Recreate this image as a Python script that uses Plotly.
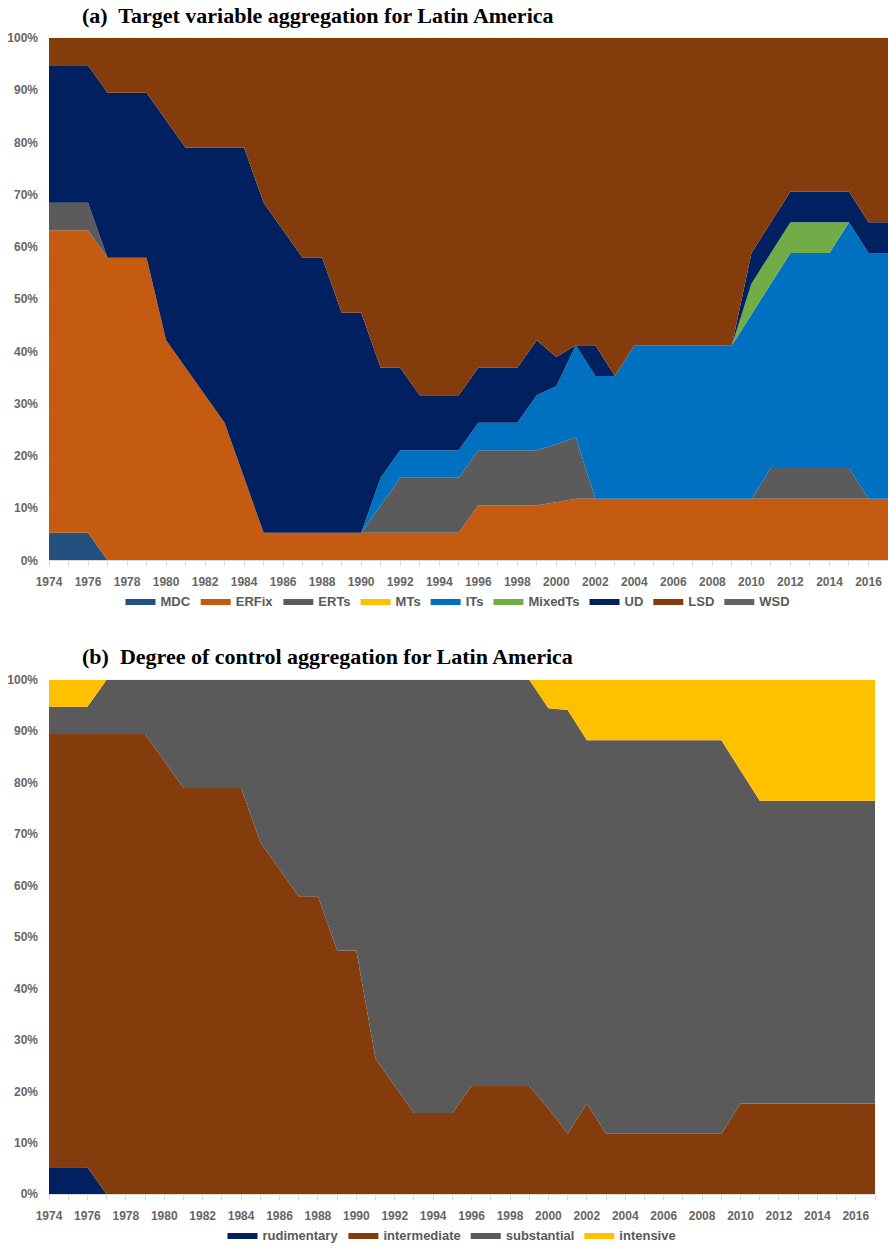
import plotly.graph_objects as go

# Number of Latin American countries in each category, per year
years = list(range(1974, 2018))

# (a) target variable
mdc = [1, 1, 1, 0, 0, 0, 0, 0, 0, 0,
       0, 0, 0, 0, 0, 0, 0, 0, 0, 0,
       0, 0, 0, 0, 0, 0, 0, 0, 0, 0,
       0, 0, 0, 0, 0, 0, 0, 0, 0, 0,
       0, 0, 0, 0]
erfix = [11, 11, 11, 11, 11, 11, 8, 7, 6, 5,
         3, 1, 1, 1, 1, 1, 1, 1, 1, 1,
         1, 1, 2, 2, 2, 2, 2, 2, 2, 2,
         2, 2, 2, 2, 2, 2, 2, 2, 2, 2,
         2, 2, 2, 2]
erts = [1, 1, 1, 0, 0, 0, 0, 0, 0, 0,
        0, 0, 0, 0, 0, 0, 0, 1, 2, 2,
        2, 2, 2, 2, 2, 2, 2, 2, 0, 0,
        0, 0, 0, 0, 0, 0, 0, 1, 1, 1,
        1, 1, 0, 0]
mts = [0] * 44
its = [0, 0, 0, 0, 0, 0, 0, 0, 0, 0,
       0, 0, 0, 0, 0, 0, 0, 1, 1, 1,
       1, 1, 1, 1, 1, 2, 2, 3, 4, 4,
       5, 5, 5, 5, 5, 5, 6, 6, 7, 7,
       7, 8, 8, 8]
mixedts = [0, 0, 0, 0, 0, 0, 0, 0, 0, 0,
           0, 0, 0, 0, 0, 0, 0, 0, 0, 0,
           0, 0, 0, 0, 0, 0, 0, 0, 0, 0,
           0, 0, 0, 0, 0, 0, 1, 1, 1, 1,
           1, 0, 0, 0]
ud = [5, 5, 5, 6, 6, 6, 8, 8, 9, 10,
      12, 12, 11, 10, 10, 8, 8, 4, 3, 2,
      2, 2, 2, 2, 2, 2, 1, 0, 1, 0,
      0, 0, 0, 0, 0, 0, 1, 1, 1, 1,
      1, 1, 1, 1]
lsd = [1, 1, 1, 2, 2, 2, 3, 4, 4, 4,
       4, 6, 7, 8, 8, 10, 10, 12, 12, 13,
       13, 13, 12, 12, 12, 11, 11, 10, 10, 11,
       10, 10, 10, 10, 10, 10, 7, 6, 5, 5,
       5, 5, 6, 6]
wsd = [0] * 44

# (b) degree of control
rudimentary = [1, 1, 1, 0, 0, 0, 0, 0, 0, 0,
               0, 0, 0, 0, 0, 0, 0, 0, 0, 0,
               0, 0, 0, 0, 0, 0, 0, 0, 0, 0,
               0, 0, 0, 0, 0, 0, 0, 0, 0, 0,
               0, 0, 0, 0]
intermediate = [16, 16, 16, 17, 17, 17, 16, 15, 15, 15,
                15, 13, 12, 11, 11, 9, 9, 5, 4, 3,
                3, 3, 4, 4, 4, 4, 3, 2, 3, 2,
                2, 2, 2, 2, 2, 2, 3, 3, 3, 3,
                3, 3, 3, 3]
substantial = [1, 1, 1, 2, 2, 2, 3, 4, 4, 4,
               4, 6, 7, 8, 8, 10, 10, 14, 15, 16,
               16, 16, 15, 15, 15, 15, 14, 14, 12, 13,
               13, 13, 13, 13, 13, 13, 11, 10, 10, 10,
               10, 10, 10, 10]
intensive = [1, 1, 1, 0, 0, 0, 0, 0, 0, 0,
             0, 0, 0, 0, 0, 0, 0, 0, 0, 0,
             0, 0, 0, 0, 0, 0, 1, 1, 2, 2,
             2, 2, 2, 2, 2, 2, 3, 4, 4, 4,
             4, 4, 4, 4]

series_a = [
    ("MDC", mdc, "#23507E"),
    ("ERFix", erfix, "#C55A11"),
    ("ERTs", erts, "#5B5B5B"),
    ("MTs", mts, "#FFC000"),
    ("ITs", its, "#0070C0"),
    ("MixedTs", mixedts, "#70AD47"),
    ("UD", ud, "#002060"),
    ("LSD", lsd, "#843C0C"),
    ("WSD", wsd, "#636363"),
]
series_b = [
    ("rudimentary", rudimentary, "#002060"),
    ("intermediate", intermediate, "#843C0C"),
    ("substantial", substantial, "#5A5A5A"),
    ("intensive", intensive, "#FFC000"),
]

W, H = 888, 1250
L = 49


def px_x(px):
    return (px - L) / (W - L)


def px_y(py):
    return 1 - py / H


fig = go.Figure()
for name, vals, col in series_a:
    fig.add_trace(go.Scatter(
        x=years, y=vals, name=name, mode="lines",
        stackgroup="a", groupnorm="percent",
        line=dict(width=0, color=col), fillcolor=col,
        xaxis="x", yaxis="y", legend="legend"))
for name, vals, col in series_b:
    fig.add_trace(go.Scatter(
        x=years, y=vals, name=name, mode="lines",
        stackgroup="b", groupnorm="percent",
        line=dict(width=0, color=col), fillcolor=col,
        xaxis="x2", yaxis="y2", legend="legend2"))

tick_font = dict(family="Liberation Sans, Arial, sans-serif", size=12,
                 color="#666666", weight="bold")

xcommon = dict(range=[1974, 2017], tick0=1974, dtick=2, ticks="outside",
               ticklen=5, tickcolor="#D9D9D9", showgrid=False, zeroline=False,
               showline=True, linecolor="#D9D9D9", linewidth=1,
               tickfont=tick_font, automargin=False, ticklabelstandoff=5,
               minor=dict(dtick=1, ticks="outside", ticklen=5,
                          tickcolor="#D9D9D9", showgrid=False))
ycommon = dict(range=[0, 100], dtick=10, ticksuffix="%", showgrid=False,
               zeroline=False, showline=False, ticks="",
               ticklabelstandoff=10, tickfont=tick_font, automargin=False)

legend_font = dict(family="Liberation Sans, Arial, sans-serif",
                   size=13, color="#595959", weight="bold")

fig.update_layout(
    width=W, height=H,
    margin=dict(l=L, r=0, t=0, b=0),
    paper_bgcolor="white", plot_bgcolor="white",
    xaxis=dict(domain=[0, 1], anchor="y", **xcommon),
    yaxis=dict(domain=[px_y(563), px_y(38)], anchor="x", **ycommon),
    xaxis2=dict(domain=[0, px_x(875)], anchor="y2", **xcommon),
    yaxis2=dict(domain=[px_y(1200), px_y(683)], anchor="x2", **ycommon),
    legend=dict(orientation="h", x=px_x(458), y=px_y(604),
                xanchor="center", yanchor="middle", itemwidth=30,
                font=legend_font,
                bgcolor="rgba(0,0,0,0)", traceorder="normal"),
    legend2=dict(orientation="h", x=px_x(452), y=px_y(1241),
                 xanchor="center", yanchor="middle", itemwidth=30,
                 font=legend_font,
                 bgcolor="rgba(0,0,0,0)", traceorder="normal"),
    showlegend=True,
)

title_font = dict(family="Liberation Serif, Times New Roman, serif",
                  size=22, color="black", weight="bold")
fig.add_annotation(text="(a)  Target variable aggregation for Latin America",
                   xref="paper", yref="paper", x=px_x(80), y=px_y(16),
                   xanchor="left", yanchor="middle", showarrow=False,
                   font=title_font)
fig.add_annotation(text="(b)  Degree of control aggregation for Latin America",
                   xref="paper", yref="paper", x=px_x(80), y=px_y(660),
                   xanchor="left", yanchor="middle", showarrow=False,
                   font=title_font)

fig.write_html("out.html")
